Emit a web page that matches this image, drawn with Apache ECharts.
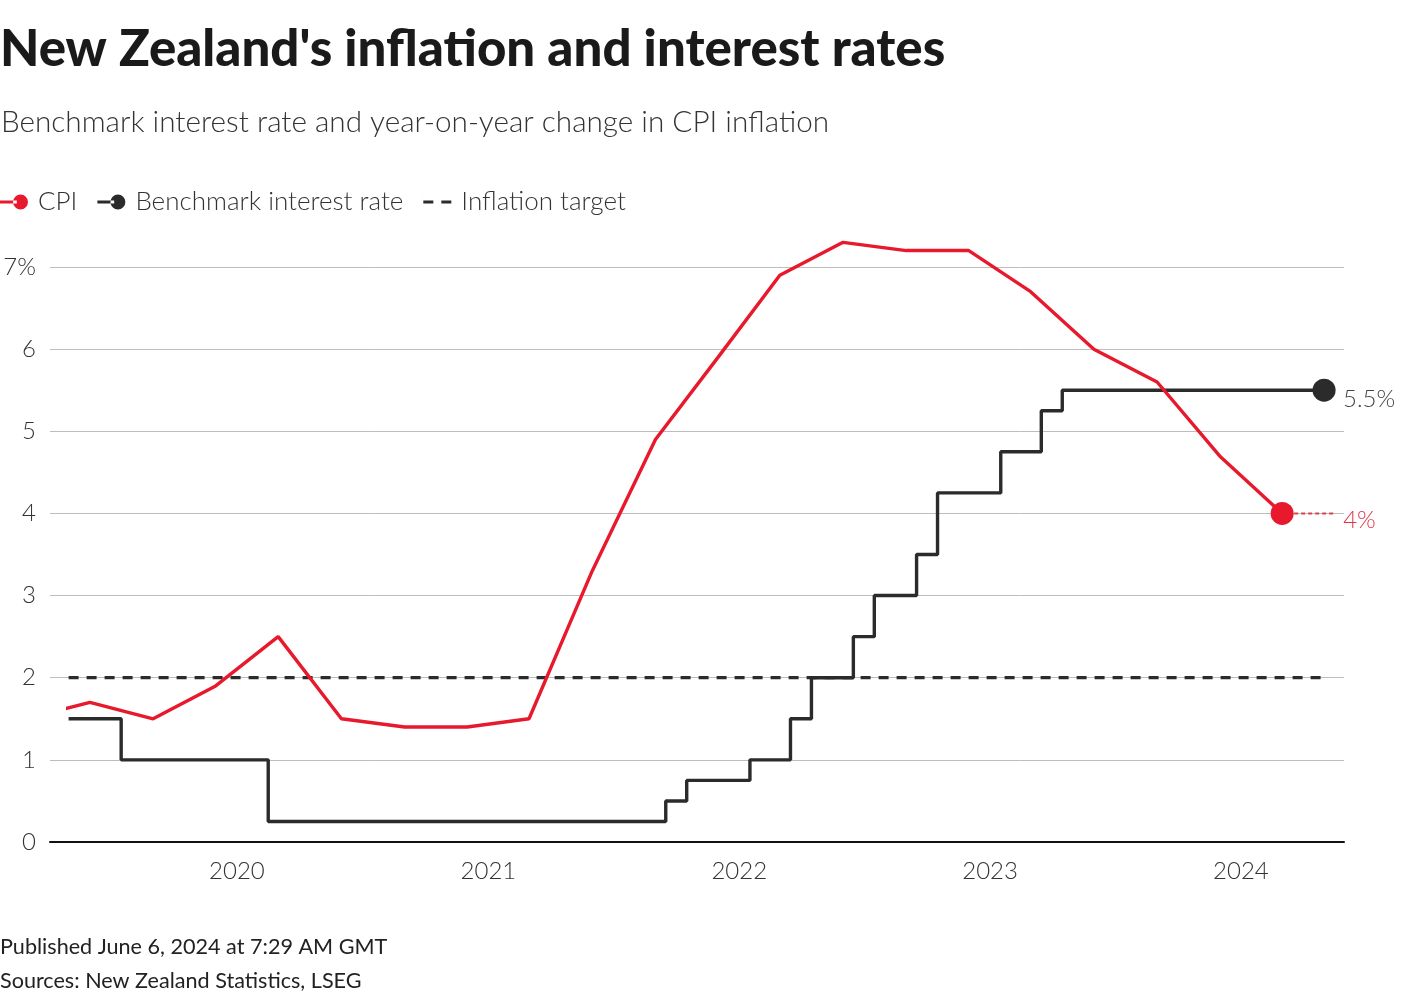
<!DOCTYPE html>
<html><head><meta charset="utf-8">
<script src="https://cdn.jsdelivr.net/npm/echarts@6/dist/echarts.min.js"></script>
<style>html,body{margin:0;padding:0;background:#fff}#c{width:1420px;height:1000px}</style>
</head><body><div id="c"></div>
<script>
// ---- DATA ----
const cpiDates = ['2019-03-01','2019-06-01','2019-09-01','2019-12-01',
  '2020-03-01','2020-06-01','2020-09-01','2020-12-01',
  '2021-03-01','2021-06-01','2021-09-01','2021-12-01',
  '2022-03-01','2022-06-01','2022-09-01','2022-12-01',
  '2023-03-01','2023-06-01','2023-09-01','2023-12-01',
  '2024-03-01'];
const cpiValues = [1.5,1.7,1.5,1.9, 2.5,1.5,1.4,1.4, 1.5,3.3,4.9,5.9, 6.9,7.3,7.2,7.2, 6.7,6.0,5.6,4.7, 4.0];

const rateMonths = [
  '2019-05-01','2019-06-01','2019-07-01','2019-08-01','2019-09-01','2019-10-01','2019-11-01','2019-12-01',
  '2020-01-01','2020-02-01','2020-03-01','2020-04-01','2020-05-01','2020-06-01','2020-07-01','2020-08-01','2020-09-01','2020-10-01','2020-11-01','2020-12-01',
  '2021-01-01','2021-02-01','2021-03-01','2021-04-01','2021-05-01','2021-06-01','2021-07-01','2021-08-01','2021-09-01','2021-10-01','2021-11-01','2021-12-01',
  '2022-01-01','2022-02-01','2022-03-01','2022-04-01','2022-05-01','2022-06-01','2022-07-01','2022-08-01','2022-09-01','2022-10-01','2022-11-01','2022-12-01',
  '2023-01-01','2023-02-01','2023-03-01','2023-04-01','2023-05-01','2023-06-01','2023-07-01','2023-08-01','2023-09-01','2023-10-01','2023-11-01','2023-12-01',
  '2024-01-01','2024-02-01','2024-03-01','2024-04-01','2024-05-01'];
const rateValues = [
  1.5,1.5,1.5,1.0,1.0,1.0,1.0,1.0,
  1.0,1.0,0.25,0.25,0.25,0.25,0.25,0.25,0.25,0.25,0.25,0.25,
  0.25,0.25,0.25,0.25,0.25,0.25,0.25,0.25,0.25,0.5,0.75,0.75,
  0.75,1.0,1.0,1.5,2.0,2.0,2.5,3.0,3.0,3.5,4.25,4.25,
  4.25,4.75,4.75,5.25,5.5,5.5,5.5,5.5,5.5,5.5,5.5,5.5,
  5.5,5.5,5.5,5.5,5.5];

const targetDates = ['2019-05-01','2024-05-01'];
const targetValues = [2, 2];

const yTicks = [0,1,2,3,4,5,6,7];
const seriesNames = ['CPI','Benchmark interest rate','Inflation target'];

// ---- CHART ----
const FONT = 'Lato';
const RED = '#e8192c';
const DARK = '#2b2b2b';
const chart = echarts.init(document.getElementById('c'), null, {renderer:'canvas'});

const lastCpi = cpiValues.length - 1;
const lastRate = rateValues.length - 1;
// plot geometry: y=0 at 842px, y=7 at 267px; series grid extends headroom above 7
const PX_PER_UNIT = (842 - 267) / 7;
const HEAD = 0.6;

const dotIcon = 'path://M0,6.5h18v3h-18z M14,8a8,8 0 1,0 16,0a8,8 0 1,0 -16,0z';
const option = {
  animation: false,
  backgroundColor: '#fff',
  textStyle: {fontFamily: FONT},
  title: [
    {text: "New Zealand's inflation and interest rates", left: 0, top: 24, padding: 0,
     textStyle: {fontFamily: FONT, fontSize: 51, fontWeight: 900, color: '#1a1a1a'}},
    {text: 'Benchmark interest rate and year-on-year change in CPI inflation', left: 1, top: 107, padding: 0,
     textStyle: {fontFamily: FONT, fontSize: 29.7, fontWeight: 300, color: '#333'}},
    {text: 'Published June 6, 2024 at 7:29 AM GMT', left: 0, top: 936, padding: 0,
     textStyle: {fontFamily: FONT, fontSize: 21.6, fontWeight: 'normal', color: '#222'}},
    {text: 'Sources: New Zealand Statistics, LSEG', left: 0, top: 970, padding: 0,
     textStyle: {fontFamily: FONT, fontSize: 21.6, fontWeight: 'normal', color: '#222'}}
  ],
  legend: {
    left: 0, top: 189, padding: 0, itemGap: 20, itemWidth: 28, itemHeight: 16,
    textStyle: {fontFamily: FONT, fontSize: 26, fontWeight: 300, color: '#333', padding: [0,0,0,5]},
    data: [
      {name: seriesNames[0], icon: dotIcon, itemStyle: {color: RED}},
      {name: seriesNames[1], icon: dotIcon, itemStyle: {color: DARK}},
      {name: seriesNames[2], icon: 'path://M0,6.5h10v3h-10z M18,6.5h10v3h-10z M0,0h0.01v16h-0.01z', itemStyle: {color: DARK}}
    ]
  },
  grid: [
    {left: 50, right: 76, top: 267, bottom: 158},
    {left: 68.6, right: 76, top: 267 - HEAD * PX_PER_UNIT, bottom: 158}
  ],
  xAxis: [
    {type: 'time', gridIndex: 0, min: '2019-04-04', max: '2024-05-30',
     minInterval: 365*24*3600*1000, splitNumber: 5,
     axisLine: {show: true, lineStyle: {color: '#111', width: 2}},
     axisTick: {show: false}, splitLine: {show: false},
     axisLabel: {formatter: '{yyyy}', fontFamily: FONT, fontSize: 24, fontWeight: 300, color: '#333', margin: 17}},
    {type: 'time', gridIndex: 1, min: '2019-05-01', max: '2024-05-30', show: false}
  ],
  yAxis: [
    {type: 'value', gridIndex: 0, min: 0, max: 7, interval: 1,
     axisLine: {show: false}, axisTick: {show: false},
     splitLine: {lineStyle: {color: '#bdbdbd', width: 1}},
     axisLabel: {formatter: v => (v === yTicks[yTicks.length-1] ? v + '%' : String(v)),
       fontFamily: FONT, fontSize: 24, fontWeight: 300, color: '#333', margin: 14}},
    {type: 'value', gridIndex: 1, min: 0, max: 7 + HEAD, show: false}
  ],
  series: [
    {name: seriesNames[1], type: 'line', xAxisIndex: 1, yAxisIndex: 1, step: 'middle', z: 2,
     data: rateMonths.map((d, i) => ({value: [d, rateValues[i]],
        symbol: i === lastRate ? 'circle' : 'none', symbolSize: 23})),
     showSymbol: true, clip: true,
     lineStyle: {color: DARK, width: 3.4}, itemStyle: {color: DARK},
     endLabel: {show: true, formatter: p => p.value[1] + '%', distance: 19, offset: [0, 9],
       fontFamily: FONT, fontSize: 24, fontWeight: 300, color: '#444'}},
    {name: seriesNames[2], type: 'line', xAxisIndex: 1, yAxisIndex: 1, z: 3,
     data: targetDates.map((d, i) => [d, targetValues[i]]), showSymbol: false, symbol: 'none',
     lineStyle: {color: DARK, width: 3.2, type: [10, 8]}, itemStyle: {color: DARK}},
    {name: seriesNames[0], type: 'line', xAxisIndex: 1, yAxisIndex: 1, z: 4,
     data: cpiDates.map((d, i) => ({value: [d, cpiValues[i]],
        symbol: i === lastCpi ? 'circle' : 'none', symbolSize: 23})),
     showSymbol: true, clip: true,
     lineStyle: {color: RED, width: 3.4}, itemStyle: {color: RED},
     endLabel: {show: true, formatter: p => p.value[1] + '%', distance: 61, offset: [0, 7],
       fontFamily: FONT, fontSize: 24, fontWeight: 300, color: '#e0344a'}}
  ]
};
chart.setOption(option);

// dotted connector from the last CPI point to its label
const p = chart.convertToPixel({gridIndex: 1}, [cpiDates[lastCpi], cpiValues[lastCpi]]);
chart.setOption({graphic: [{type: 'line', z: 1,
  shape: {x1: p[0] + 12, y1: p[1], x2: p[0] + 54, y2: p[1]},
  style: {stroke: '#d9414f', lineWidth: 2, lineDash: [4, 3]}}]});
</script>
</body></html>
